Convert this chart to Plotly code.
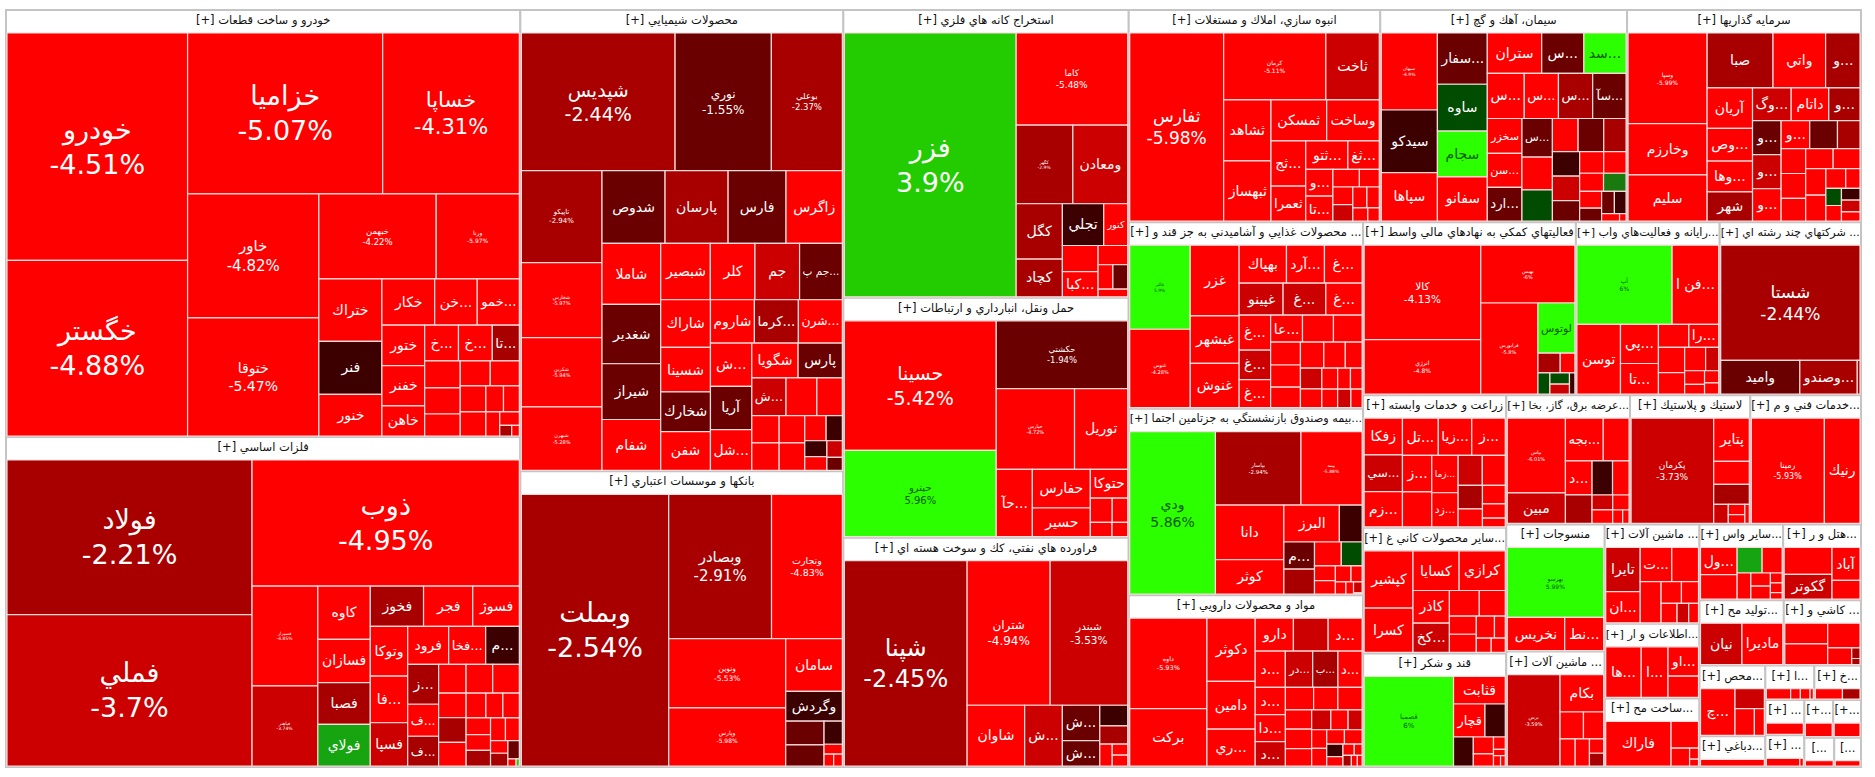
import plotly.graph_objects as go

sector_titles = [
    "[+] خودرو و ساخت قطعات", "[+] فلزات اساسي", "[+] محصولات شيميايي", "[+] بانكها و موسسات اعتباري",
    "[+] استخراج كانه هاي فلزي", "[+] حمل ونقل، انبارداري و ارتباطات", "[+] فراورده هاي نفتي، كك و سوخت هسته اي",
    "[+] انبوه سازي، املاك و مستغلات", "[+] سيمان، آهك و گچ", "[+] سرمايه گذاريها",
    "[+] محصولات غذايي و آشاميدني به جز قند و ...", "[+] بيمه وصندوق بازنشستگي به جزتامين اجتما...", "[+] مواد و محصولات دارويي",
    "[+] فعاليتهاي كمكي به نهادهاي مالي واسط", "[+] رايانه و فعاليت‌هاي واب...", "[+] شركتهاي چند رشته اي ...",
    "[+] زراعت و خدمات وابسته", "[+] عرضه برق، گاز، بخا...", "[+] لاستيك و پلاستيك", "[+] خدمات فني و م...",
    "[+] ساير محصولات كاني غ...", "[+] قند و شكر", "[+] منسوجات", "[+] ماشين آلات ...",
    "[+] ماشين آلات ...", "[+] اطلاعات و ار...", "[+] ساخت مح...", "[+] ساير واس...", "[+] هتل و ر...",
    "[+] توليد مح...", "[+] كاشي و ...", "[+] محص...", "[+] ا...", "[+] خ...",
    "[+] ...", "[+...", "[...", "[+] دباغي...", "[+] ...", "[+...", "[...",
]
sector_areas = [
    152700, 118000, 103600, 66400, 57100, 47600, 45500, 37100, 36400, 34500,
    30400, 30400, 28000, 25600, 17300, 17000, 13200, 11128, 10807, 9951,
    12500, 11300, 8700, 7900, 6552, 4914, 4520, 4400, 4095, 3834, 3510,
    3240, 1176, 1120, 957, 754, 609, 1404, 858, 728, 546,
]

s01_names = ["خودرو","خگستر","خزاميا","خساپا","خاور","ختوقا","خبهمن","ورنا","ختراك","فنر","خنور","خكار","خن...","خمو...","ختور","خفنر","خاهن","خ...","خ...","تا...","","","","","","","","","","","","",""]
s01_vals = [3570,2756,2728,1911,1414,1349,868,615,342,291,228,212,171,169,150,150,112,105,105,84,83,81,68,65,63,58,54,40,36,29,23,11,7]
s01_chg = [-4.51,-4.88,-5.07,-4.31,-4.82,-5.47,-4.22,-5.97,-5,-0.5,-5,-5,-5,-5,-5,-5,-5,-5,-5,-2.5,-5,-5,-5,-5,-5,-5,-5,-5,-5,-5,-5,-2.5,-5]

s02_names = ["فولاد","فملي","ذوب","فسپرار","فباهنر","كاوه","فسازان","فصبا","فولاي","فخوز","فجر","فسوژ","وتوكا","فا...","فسپا","فرود","فخا...","م...","ز...","ف...","ف...","","","","","","","","","","","","","","","","","","",""]
s02_vals = [3257,3186,2896,564,453,240,195,188,188,184,170,161,160,150,139,134,121,110,106,85,79,68,66,66,58,58,56,42,36,35,35,33,33,29,27,19,19,18,5,2]
s02_chg = [-2.21,-3.7,-4.95,-4.85,-3.74,-5,-5,-2.5,2.5,-2.9,-5,-5,-5,-5,-3.5,-5,-5,-0.5,-2.5,-5,-2.5,-5,-5,-5,-5,-2.5,-5,-5,-5,-5,-5,-5,-2.9,-5,-5,-5,-2.5,-1.5,-5,4]

s03_names = ["شپديس","نوري","بوعلي","تاپيكو","شخارس","شكربن","شبهرن","شدوص","پارسان","فارس","زاگرس","شاملا","شغدير","شيراز","شفام","شبصير","كلر","جم","جم پ...","شاراك","شسينا","شخارك","شفن","شاروم","كرما...","شرن...","ش...","آريا","شل...","شگويا","پارس","ش...","","","","","","","","","","","",""]
s03_vals = [1811,1134,836,634,517,478,438,392,392,360,350,306,298,280,255,239,215,215,206,203,189,169,165,163,163,163,153,153,144,138,132,110,99,82,64,64,60,60,46,35,30,26,22,17]
s03_chg = [-2.44,-1.55,-2.37,-2.94,-5.97,-5.94,-5.28,-1.5,-2.5,-1.5,-5,-5,-1.5,-1.5,-5,-5,-5,-3.7,-1.5,-5,-5,-1.5,-5,-5,-2.5,-5,-5,-1.5,-5,-5,-1.5,-3.7,-5,-5,-5,-5,-5,-5,-5,-0.5,-0.5,-5,-3.7,-1.5]

s04_names = ["وبملت","وبصادر","وتجارت","ونوين","وپارس","سامان","وگردش","","","","","",""]
s04_vals = [3521,1305,899,711,599,262,149,80,71,37,16,10,9]
s04_chg = [-2.54,-2.91,-4.83,-5.53,-5.98,-5,-0.5,-1.5,-1.5,-0.5,-5,-5,-5]

s05_names = ["فزر","كاما","كگهر","ومعادن","كگل","كچاد","تجلي","كنور","","كبا...","","","",""]
s05_vals = [2625,595,258,250,148,101,100,58,54,52,33,21,21,13]
s05_chg = [3.9,-5.48,-2.9,-3.5,-2.5,-2.5,-0.5,-5,-5,-5,-5,-5,-1.5,-5]

s06_names = ["حسينا","حپترو","حكشتي","حپارس","توريل","حآ...","حفارس","حسير","حتوكا","","","",""]
s06_vals = [1148,765,521,368,250,142,131,97,63,31,22,18,13]
s06_chg = [-5.42,5.96,-1.94,-4.72,-5,-5,-5,-5,-5,-5,-5,-5,-5]

s07_names = ["شپنا","شتران","شبندر","شاوان","ش...","ش...","ش...","","","","",""]
s07_vals = [1486,707,661,206,135,78,56,34,30,16,10,10]
s07_chg = [-2.45,-4.94,-3.53,-5,-3.5,-1.5,-1.5,-0.5,-2.5,-5,-5,-5]

s08_names = ["ثفارس","كرمان","ثاخت","ثشاهد","ثبهساز","ثمسكن","وساخت","ثج...","ثعمرا","ثتو...","ثغ...","و...","تا...","","","","","","","",""]
s08_vals = [1507,583,305,246,243,195,184,134,104,102,76,62,58,40,30,30,28,25,22,17,13]
s08_chg = [-5.98,-5.11,-3.5,-5,-5,-5,-5,-5,-5,-5,-5,-5,-5,-5,-5,-5,-3.7,-5,-5,-5,-5]

s09_names = ["سبهان","سيدكو","سپاها","سفار...","ساوه","سجام","سفانو","ستران","س...","سد...","س...","س...","س...","سآ...","سخزر","سن...","ارد...","س...","","","","","","","","","","","","","","","","","",""]
s09_vals = [350,285,220,207,189,185,179,178,138,138,135,125,125,122,98,95,95,95,81,77,69,69,60,54,54,45,42,39,35,33,30,23,23,21,11,4]
s09_chg = [-4.9,-0.5,-5,-1.3,0.5,5.9,-5,-5,-1.5,5.9,-5,-5,-2.5,-1.5,-5,-5,-1.2,-1.5,-5,0.5,-5,-1.5,-2.5,-0.5,-3.7,-1.5,-5,-5,-5,1.5,-5,-1.5,-1.5,-0.5,-5,-5]

s10_names = ["وسپا","وخارزم","سليم","صبا","واتي","و...","آريان","وص...","وها...","شهر","وگ...","داتام","و...","و...","و...","و...","و...","","","","","","","","","","","","","","","",""]
s10_vals = [588,333,300,297,237,155,151,122,115,109,104,101,84,80,80,76,66,64,52,50,50,46,45,44,44,43,32,23,22,20,18,18,14]
s10_chg = [-5.99,-5,-5,-2.5,-5,-2.5,-5,-5,-5,-2.5,-3.5,-5,-2.5,-1.5,-3.5,-5,-5,-1.5,-2.5,-5,-5,-5,-5,-5,-5,-5,-5,-5,0.5,-5,-0.5,-3,-5]

s11_names = ["غالبر","غنوس","غزر","غبشهر","غنوش","بهپاك","آرد...","غ...","غپينو","غ...","غ...","غ...","غ...","غ...","عا...","","","","","","","","","","","","","","","",""]
s11_vals = [416,388,283,190,177,147,118,117,115,112,95,90,76,72,70,68,63,56,54,50,50,46,36,36,33,27,24,22,20,20,17]
s11_chg = [5.9,-4.28,-5,-5,-5,-5,-5,-5,-3.5,-3.5,-5,-5,-3.5,-5,-5,-5,-5,-5,-5,-5,-5,-5,-5,-3.5,-5,-5,-5,-5,-5,-3,-5]

s12_names = ["ودي","بپاسار","بيمه","دانا","كوثر","البرز","","م...","","","","","","","","","","",""]
s12_vals = [1176,530,379,316,199,173,71,70,65,54,42,26,24,21,15,11,8,8,1]
s12_chg = [5.86,-2.94,-5.88,-5,-5,-5,-0.5,-1.5,-2.5,-5,0.5,-5,-5,-5,-5,-5,-5,-3.5,-5]

s13_names = ["داوه","بركت","دكوثر","دامين","ري...","دارو","","د...","د...","در...","ب...","د...","د...","دا...","د...","","","","","","","","","","","","","","","","","","","",""]
s13_vals = [549,349,240,182,140,99,90,88,86,78,72,69,65,64,58,50,43,43,40,40,36,30,27,22,22,21,20,20,16,12,10,7,7,5,4]
s13_chg = [-5.93,-5,-5,-5,-5,-5,-3.7,-5,-5,-3.5,-2.5,-5,-5,-5,-3.5,-5,-5,-5,-5,-5,-5,-3.5,-5,-3.5,-5,-5,-5,-5,-0.5,-5,-5,-5,-2,-5,-5]

s14_names = ["كالا","انرژي","بهيس","فرابورس","لوتوس","","","","","",""]
s14_vals = [950,550,470,450,160,38,25,22,19,17,10]
s14_chg = [-4.13,-4.8,-6,-5.8,5.9,-2.5,-5,0.5,0.5,-3,-0.5]

s15_names = ["آپ","فن ا...","توسن","پي...","تا...","","","را...","","","","","","",""]
s15_vals = [615,301,248,121,95,57,54,56,46,40,25,22,16,14,13]
s15_chg = [6,-5,-5,-5,-5,-5,-5,-5,-5,-5,-3,-5,-5,-5,-5]

s16_names = ["شستا","واميد","وصندو...",""]
s16_vals = [1379,230,167,8]
s16_chg = [-2.44,-1.5,-2.5,-2.5]

s17_names = ["زفكا","سي...","تل...","زم...","زيا...","ز...","ز...","","زما...","زد...","","","","","","",""]
s17_vals = [113,113,107,108,100,100,86,82,79,72,58,55,46,35,34,26,16]
s17_chg = [-5,-3.7,-5,-5,-5,-5,-5,-5,-5,-5,-3.7,-5,-2.5,-5,-5,-5,-5]

s18_names = ["بپاس","مبين","بجه...","","د...","","","","","","","",""]
s18_vals = [355,145,132,90,74,62,57,46,25,23,20,11,7]
s18_chg = [-6.01,-3.7,-5,-5,-5,-2.5,-0.5,-5,-3.7,-5,-5,-5,-5]

s19_names = ["پكرمان","پتاير","","","","","",""]
s19_vals = [717,127,67,59,23,14,12,7]
s19_chg = [-3.73,-5,-5,-2.5,-3,-5,-5,-5]

s20_names = ["رمپنا","رنيك"]
s20_vals = [656,320]
s20_chg = [-5.93,-5]

s21_names = ["كپشير","كسرا","كسايا","كرازي","كاذر","كخ...","","","","","","","",""]
s21_vals = [223,173,146,146,95,85,61,53,39,39,32,19,17,16]
s21_chg = [-5,-5,-5,-5,-5,-3.7,-5,-5,-5,-5,-5,-5,-5,-5]

s22_names = ["قصمبا","قثابت","قچار","","","","","","","",""]
s22_vals = [657,117,85,55,47,28,20,12,6,6,4]
s22_chg = [6,-5,-5,-0.5,-0.5,-5,-5,-5,-5,-5,-5]

s23_names = ["بهرسو","نخريس","نط..."]
s23_vals = [574,162,110]
s23_chg = [5.99,-5,-5]

s24_names = ["برس","بكام","","","","","",""]
s24_vals = [399,135,52,45,34,32,17,15]
s24_chg = [-3.59,-5,-5,-5,-5,-5,-5,-2.5]

s25_names = ["تايرا","ان...","ت...","","","","","","",""]
s25_vals = [127,90,90,76,72,37,31,26,19,16]
s25_chg = [-3.7,-5,-5,-5,-5,-5,-5,-5,-3.7,-5]

s26_names = ["ها...","ا...","او...",""]
s26_vals = [155,117,77,56]
s26_chg = [-5,-5,-5,-5]

s27_names = ["فاراك","","","",""]
s27_vals = [238,60,27,8,5]
s27_chg = [-5,-5,-5,-5,-5]

s28_names = ["ول...","","","","","","","","",""]
s28_vals = [78,70,50,40,28,20,20,9,9,6]
s28_chg = [-5,-5,2.5,-5,-5,-5,-5,-5,-5,-5]

s29_names = ["","گكوتر","آباد",""]
s29_vals = [105,97,75,43]
s29_chg = [-5,-3.7,-5,-5]

s30_names = ["نيان","ماديرا"]
s30_vals = [144,142]
s30_chg = [-3.7,-5]

s31_names = ["","","","","",""]
s31_vals = [71,71,64,32,7,4]
s31_chg = [-5,-5,-5,-5,-2,-2.5]

s32_names = ["چ...","","",""]
s32_vals = [128,47,41,21]
s32_chg = [-5,-3.5,-5,-5]

s33_names = ["","","",""]
s33_vals = [15,6,6,2]
s33_chg = [-5,-5,-5,-5]

s34_names = ["",""]
s34_vals = [17,11]
s34_chg = [-5,-2.5]

s35_names, s35_vals, s35_chg = [""], [33], [-5]
s36_names, s36_vals, s36_chg = [""], [31], [-5]
s37_names, s37_vals, s37_chg = [""], [27], [-5]
s38_names, s38_vals, s38_chg = [""], [34], [-5]
s39_names, s39_vals, s39_chg = ["",""], [19,2], [-5,-5]
s40_names, s40_vals, s40_chg = [""], [9], [-5]
s41_names, s41_vals, s41_chg = [""], [2], [-5]

sector_names = [s01_names,s02_names,s03_names,s04_names,s05_names,s06_names,s07_names,s08_names,s09_names,s10_names,s11_names,s12_names,s13_names,s14_names,s15_names,s16_names,s17_names,s18_names,s19_names,s20_names,s21_names,s22_names,s23_names,s24_names,s25_names,s26_names,s27_names,s28_names,s29_names,s30_names,s31_names,s32_names,s33_names,s34_names,s35_names,s36_names,s37_names,s38_names,s39_names,s40_names,s41_names]
sector_vals = [s01_vals,s02_vals,s03_vals,s04_vals,s05_vals,s06_vals,s07_vals,s08_vals,s09_vals,s10_vals,s11_vals,s12_vals,s13_vals,s14_vals,s15_vals,s16_vals,s17_vals,s18_vals,s19_vals,s20_vals,s21_vals,s22_vals,s23_vals,s24_vals,s25_vals,s26_vals,s27_vals,s28_vals,s29_vals,s30_vals,s31_vals,s32_vals,s33_vals,s34_vals,s35_vals,s36_vals,s37_vals,s38_vals,s39_vals,s40_vals,s41_vals]
sector_chg = [s01_chg,s02_chg,s03_chg,s04_chg,s05_chg,s06_chg,s07_chg,s08_chg,s09_chg,s10_chg,s11_chg,s12_chg,s13_chg,s14_chg,s15_chg,s16_chg,s17_chg,s18_chg,s19_chg,s20_chg,s21_chg,s22_chg,s23_chg,s24_chg,s25_chg,s26_chg,s27_chg,s28_chg,s29_chg,s30_chg,s31_chg,s32_chg,s33_chg,s34_chg,s35_chg,s36_chg,s37_chg,s38_chg,s39_chg,s40_chg,s41_chg]

# Labels that also print their percentage, with the pixel size of that label
pct_label_px = {
    "خودرو":27,"خگستر":27,"خزاميا":27,"خساپا":21,"خاور":15,"ختوقا":14,"خبهمن":8.5,"ورنا":6,
    "فولاد":27,"فملي":27,"ذوب":27,"فسپرار":4.5,"فباهنر":4.5,
    "شپديس":19,"نوري":12,"بوعلي":8.5,"تاپيكو":7,"شخارس":5,"شكربن":5,"شبهرن":5,
    "وبملت":27,"وبصادر":15,"وتجارت":9.5,"ونوين":7.5,"وپارس":6,
    "فزر":27,"كاما":9,"كگهر":4.5,"حسينا":19,"حپترو":10,"حكشتي":8.5,"حپارس":5,
    "شپنا":24,"شتران":12,"شبندر":10.5,"ثفارس":17,"كرمان":6,"سبهان":4.5,"وسپا":6,
    "غالبر":4.5,"غنوس":5,"ودي":14,"بپاسار":5.5,"بيمه":4.5,"داوه":6.5,
    "كالا":10.5,"انرژي":6,"بهيس":5,"فرابورس":5,"آپ":6,"شستا":17,"بپاس":5,"پكرمان":9,
    "رمپنا":8,"قصمبا":7,"بهرسو":6,"برس":5,
}
DEFAULT_LABEL_PX = 14


def band_color(v):
    if v <= -4:
        return "#ff0000"
    if v <= -3:
        return "#cc0000"
    if v <= -2:
        return "#a80000"
    if v <= -1:
        return "#6a0000"
    if v < 0:
        return "#3c0000"
    if v < 1:
        return "#004c00"
    if v < 2:
        return "#1a7a10"
    if v < 3:
        return "#16a510"
    if v < 5:
        return "#22cc00"
    return "#2cff00"


def text_color(v):
    return "#0b5a00" if v >= 5 else "#ffffff"


ids, parents, labels, values, colors, texts, sizes, tcolors, lcolors, lwidths = [], [], [], [], [], [], [], [], [], []

ids.append("root"); parents.append(""); labels.append(""); values.append(0)
colors.append("#ffffff"); texts.append(""); sizes.append(11); tcolors.append("#000000")
lcolors.append("#ffffff"); lwidths.append(0)

for si, title in enumerate(sector_titles):
    sid = f"s{si}"
    ids.append(sid); parents.append("root"); labels.append(title); values.append(0)
    colors.append("#ffffff"); texts.append(title); sizes.append(11.5); tcolors.append("#111111")
    lcolors.append("#c4c4c4"); lwidths.append(2)
    total = sum(sector_vals[si])
    for ci, (n, v, c) in enumerate(zip(sector_names[si], sector_vals[si], sector_chg[si])):
        ids.append(f"{sid}_{ci}"); parents.append(sid); labels.append(n or " ")
        values.append(v / total * sector_areas[si])
        colors.append(band_color(c))
        if n in pct_label_px:
            texts.append(f"{n}<br>{c:g}%"); sizes.append(pct_label_px[n])
        else:
            texts.append(n); sizes.append(DEFAULT_LABEL_PX)
        tcolors.append(text_color(c))
        lcolors.append("#f7dcdc"); lwidths.append(1.2)

fig = go.Figure(go.Treemap(
    ids=ids, parents=parents, labels=labels, values=values, text=texts,
    branchvalues="remainder", sort=True,
    textinfo="text", textposition="middle center",
    textfont=dict(family="DejaVu Sans", size=sizes, color=tcolors),
    marker=dict(colors=colors, line=dict(color=lcolors, width=lwidths),
                pad=dict(t=23, l=1, r=1, b=1), depthfade=False),
    tiling=dict(pad=0, packing="squarify", squarifyratio=1.04),
    pathbar=dict(visible=False),
    hoverinfo="text",
))
fig.update_layout(
    width=1875, height=790,
    margin=dict(l=5, r=13, t=0, b=9),
    paper_bgcolor="#ffffff",
    font=dict(family="DejaVu Sans"),
)
# The treemap root keeps an empty header strip above the first sector: the page is moved up to hide it.
fig.write_html("out.html", config={"displayModeBar": False},
               post_script="document.body.style.margin='-13px 0 0 0';document.body.style.overflow='hidden';")
